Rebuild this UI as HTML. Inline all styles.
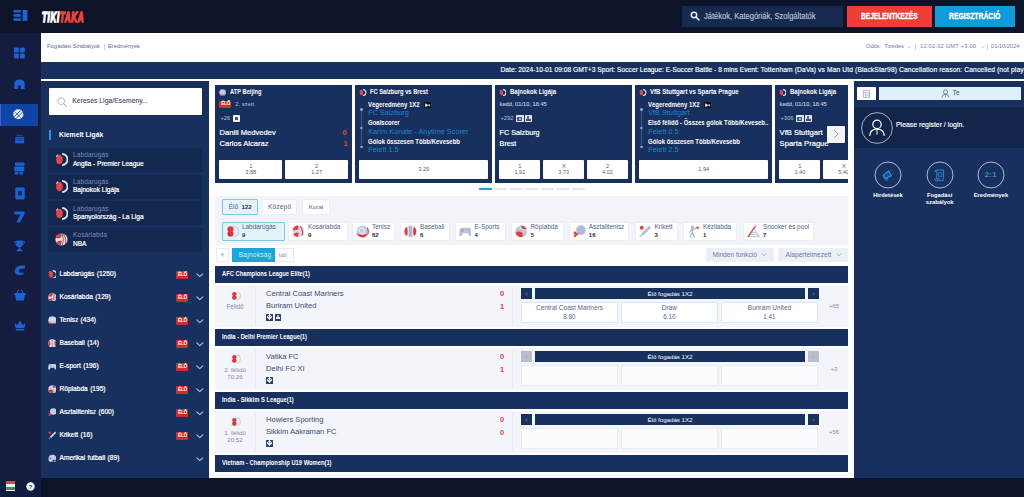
<!DOCTYPE html>
<html><head><meta charset="utf-8">
<style>
*{box-sizing:border-box;margin:0;padding:0}
html,body{width:1024px;height:497px;overflow:hidden;background:#fff;font-family:"Liberation Sans",sans-serif;}
.a{position:absolute}
.t{position:absolute;white-space:nowrap;line-height:1;transform-origin:0 50%}
#hdr{left:0;top:0;width:1024px;height:33px;background:#0d1329}
#side{left:0;top:33px;width:41px;height:464px;background:#141c3f}
#wbar{left:41px;top:33px;width:983px;height:29px;background:#fff}
#tick{left:41px;top:62px;width:983px;height:17px;background:#17305e}
#lp{left:41px;top:81px;width:168.2px;height:397px;background:#17305e}
#rp{left:854px;top:80.5px;width:170px;height:397px;background:#17305e}
#bot{left:41px;top:477.5px;width:983px;height:20px;background:#0d1329}
.card{position:absolute;top:85px;width:136.7px;height:98px;background:#17305e;overflow:hidden}
.ob{position:absolute;top:75px;height:19px;background:#fff;border-radius:1px}
.ob span{position:absolute;left:0;width:100%;text-align:center;font-size:5.6px;color:#4f5d80;line-height:1}
.w{color:#fff}
.lh{position:absolute;left:215px;width:633px;height:17px;background:#17305e}
.lh span{position:absolute;left:7px;top:5.4px;font-size:6.3px;color:#fff;font-weight:bold;line-height:1;white-space:nowrap;transform:scaleX(.92);transform-origin:0 50%}
.mr{position:absolute;left:215px;width:633px;height:42px;background:#f4f5fa}
</style></head><body>
<div class="a" id="hdr"></div>
<div class="a" id="side"></div>
<div class="a" id="wbar"></div>
<div class="a" id="tick"></div>
<div class="a" id="lp"></div>
<div class="a" id="rp"></div>
<!--P1--><!-- HEADER -->
<svg class="a" style="left:13.4px;top:9.4px" width="15.4" height="13.4" viewBox="0 0 16 13"><g fill="#1a63d6"><rect x="0.5" y="0.5" width="7.5" height="2.8"/><rect x="0.5" y="4.8" width="7.5" height="2.8"/><rect x="0.5" y="9.1" width="7.5" height="2.8"/><rect x="10" y="0.5" width="5" height="11.4"/></g></svg>
<div class="t" id="logo" style="left:41.5px;top:10.8px;font-size:13.8px;font-weight:bold;font-style:italic;transform:scaleX(0.578);letter-spacing:1.2px;-webkit-text-stroke:1.6px"><span style="color:#fff">TIKI</span><span style="color:#f0433c">TAKA</span></div>
<div class="a" style="left:682px;top:6px;width:161px;height:20.5px;background:#16294f"></div>
<svg class="a" style="left:690px;top:11px" width="10" height="10" viewBox="0 0 10 10"><circle cx="4" cy="4" r="2.7" fill="none" stroke="#e8ecf5" stroke-width="1.5"/><path d="M6 6 L8.8 8.8" stroke="#e8ecf5" stroke-width="1.7" stroke-linecap="round"/></svg>
<div class="t" id="srch" style="left:704px;top:11.5px;font-size:8.6px;color:#bcc5d9;-webkit-text-stroke:0.15px #bcc5d9;transform:scaleX(0.878)">Játékok, Kategóriák, Szolgáltatók</div>
<div class="a" style="left:847px;top:6px;width:84.5px;height:21px;background:#ef3e36"></div>
<div class="a" style="left:934.5px;top:6px;width:80px;height:21px;background:#129bdb"></div>
<div class="t" id="bej" style="left:860.5px;top:12px;font-size:9px;font-weight:bold;color:#fff;-webkit-text-stroke:0.35px #fff;transform:scaleX(0.735)">BEJELENTKEZÉS</div>
<div class="t" id="reg" style="left:948.5px;top:12px;font-size:9px;font-weight:bold;color:#fff;-webkit-text-stroke:0.35px #fff;transform:scaleX(0.756)">REGISZTRÁCIÓ</div>

<!-- SIDEBAR -->
<div class="a" style="left:0;top:104px;width:38px;height:22px;background:#0e45a6"></div>
<div class="a" style="left:0;top:104px;width:1.4px;height:22px;background:#5a55c8"></div>
<!-- grid -->
<svg class="a" style="left:14px;top:47px" width="11" height="12" viewBox="0 0 11 12"><g fill="#1a63d6"><rect x="0" y="0.5" width="4.8" height="5" rx="0.8"/><rect x="6" y="0.5" width="4.8" height="5" rx="0.8"/><rect x="0" y="6.5" width="4.8" height="5" rx="0.8"/><rect x="6" y="6.5" width="4.8" height="5" rx="0.8"/></g></svg>
<!-- home -->
<svg class="a" style="left:14px;top:79px" width="11" height="10" viewBox="0 0 11 10"><path d="M0.3 10 V5 Q0.3 0.5 5.5 0.5 Q10.7 0.5 10.7 5 V10 H6.9 V7.6 Q6.9 6.2 5.5 6.2 Q4.1 6.2 4.1 7.6 V10 Z" fill="#1a63d6"/></svg>
<!-- active ball -->
<svg class="a" style="left:13.2px;top:109.2px" width="10.6" height="10.6" viewBox="0 0 11 11"><circle cx="5.5" cy="5.5" r="5.2" fill="#e9eefb"/><g stroke="#0e47a8" stroke-width="1" fill="none"><path d="M1.5 8 L8 1.5"/><path d="M3.3 9.8 L9.8 3.3"/><path d="M2 3 L8 9" stroke-width="0.6"/></g></svg>
<!-- calendar -->
<svg class="a" style="left:13.6px;top:134.2px" width="11.4" height="9.8" viewBox="0 0 12 12"><g fill="#1a63d6"><rect x="2" y="0.8" width="8" height="1.6" opacity="0.6"/><rect x="0.5" y="3.6" width="11" height="2"/><rect x="0.5" y="6.2" width="11" height="5.2"/></g><rect x="2" y="7.4" width="8" height="1" fill="#121c3f" opacity="0.5"/></svg>
<!-- slot -->
<svg class="a" style="left:14px;top:162px" width="11" height="13" viewBox="0 0 11 13"><g fill="#1a63d6"><rect x="1" y="0.5" width="9.5" height="3.2" rx="0.6"/><rect x="0.3" y="4.4" width="10" height="5" rx="0.6"/><rect x="1" y="10" width="3.2" height="2.6"/><rect x="5.6" y="10" width="3.2" height="2.6"/></g></svg>
<!-- cards -->
<svg class="a" style="left:14.5px;top:187px" width="10" height="13" viewBox="0 0 10 13"><rect x="0.3" y="0.5" width="9.4" height="12" rx="1" fill="#1a63d6"/><rect x="3" y="4" width="4" height="4.6" fill="#121c3f" opacity="0.75"/></svg>
<!-- seven -->
<svg class="a" style="left:14px;top:210.5px" width="11" height="12" viewBox="0 0 11 12"><path d="M0.3 0.5 H10.5 V3 L5.8 11.5 H2.2 L6.6 3.6 H0.3 Z" fill="#1a63d6"/></svg>
<!-- trophy -->
<svg class="a" style="left:14px;top:240px" width="11" height="12" viewBox="0 0 11 12"><path d="M2.2 0.5 H8.8 V4 Q8.8 7.2 5.5 7.2 Q2.2 7.2 2.2 4 Z M4.7 7 H6.3 V9.6 H8.2 V11.3 H2.8 V9.6 H4.7 Z" fill="#1a63d6"/><path d="M2.2 1.5 H0.6 Q0.6 4.6 2.6 4.8 M8.8 1.5 H10.4 Q10.4 4.6 8.4 4.8" stroke="#1a63d6" stroke-width="0.9" fill="none"/></svg>
<!-- C -->
<svg class="a" style="left:13.5px;top:265px" width="12" height="11" viewBox="0 0 12 11"><path d="M11.2 0.8 Q3 -0.5 0.8 5 Q-0.2 10 6 10.2 Q9.5 10 10.4 7.6 Q8 8.2 5.6 7.4 Q4 6.3 5.6 4.4 Q8 3.4 10.8 3.6 Z" fill="#1a63d6"/></svg>
<!-- basket -->
<svg class="a" style="left:13.5px;top:289px" width="12" height="12" viewBox="0 0 12 12"><path d="M0.3 4 H11.7 V6 H10.8 L10 11.4 H2 L1.2 6 H0.3 Z" fill="#1a63d6"/><path d="M3 4.2 L4.6 0.8 M9 4.2 L7.4 0.8" stroke="#1a63d6" stroke-width="1.1" fill="none"/></svg>
<!-- crown -->
<svg class="a" style="left:13.5px;top:320px" width="12" height="11" viewBox="0 0 12 11"><path d="M0.5 2.4 L3.2 5.2 L6 0.6 L8.8 5.2 L11.5 2.4 L10.4 8.2 H1.6 Z M1.8 9 H10.2 V10.4 H1.8 Z" fill="#1a63d6"/></svg>

<!-- WHITE BAR -->
<div class="t" id="wb1" style="left:47px;top:44.2px;font-size:5.9px;color:#5d6c93">Fogadási Szabályok</div>
<div class="a" style="left:103.5px;top:43.5px;width:0.6px;height:6.5px;background:#c9d1e4"></div>
<div class="t" id="wb2" style="left:108px;top:44.2px;font-size:5.7px;color:#5d6c93">Eredmények</div>
<div class="t" id="od1" style="left:866px;top:44.2px;font-size:5.7px;color:#6d7ea6">Odds:&nbsp; Tizedes</div>
<svg class="a" style="left:907px;top:46.4px" width="4" height="2.4" viewBox="0 0 5 3"><path d="M0.5 0.5 L2.5 2.4 L4.5 0.5" stroke="#9aa6c4" stroke-width="0.7" fill="none"/></svg>
<div class="a" style="left:915.3px;top:44px;width:0.6px;height:6.4px;background:#ccd3e4"></div>
<div class="t" id="od2" style="left:920px;top:44.2px;letter-spacing:0.22px;font-size:5.7px;color:#6d7ea6">12:02:02 GMT +3:00</div>
<svg class="a" style="left:980.6px;top:46.4px" width="4" height="2.4" viewBox="0 0 5 3"><path d="M0.5 0.5 L2.5 2.4 L4.5 0.5" stroke="#9aa6c4" stroke-width="0.7" fill="none"/></svg>
<div class="a" style="left:987.4px;top:44px;width:0.6px;height:6.4px;background:#ccd3e4"></div>
<div class="t" id="od3" style="left:991px;top:44.2px;font-size:5.66px;color:#6d7ea6">01/10/2024</div>

<!-- TICKER -->
<div class="t" id="tk" style="left:500.5px;top:67px;font-size:6.7px;color:#fff;-webkit-text-stroke:0.15px #fff">Date: 2024-10-01 09:08 GMT+3 Sport: Soccer League: E-Soccer Battle - 8 mins Event: <span style="letter-spacing:0.115px">Tottenham (DaVa) vs Man Utd (BlackStar98) Cancellation reason: Cancelled (not played)</span></div>
<!--/P1-->
<!--P2--><div class="a" style="left:49px;top:88px;width:153px;height:27px;background:#fff;border-radius:1px"></div>
<svg class="a" style="left:56.5px;top:96.5px" width="11" height="11" viewBox="0 0 11 11"><circle cx="4.2" cy="4.2" r="3.4" fill="none" stroke="#8d99b5" stroke-width="0.7"/><path d="M6.8 6.8 L9.6 9.6" stroke="#8d99b5" stroke-width="0.9" stroke-linecap="round"/></svg>
<div class="t" id="ks" style="left:72.3px;top:97.8px;font-size:6.85px;color:#3f4c70;-webkit-text-stroke:0.12px #3f4c70">Keresés Liga/Esemény...</div>
<div class="a" style="left:49px;top:130px;width:1.8px;height:10px;background:#1e9be0"></div>
<div class="t" id="kl" style="left:58.5px;top:130.5px;font-size:7.4px;color:#fff;font-weight:bold;transform:scaleX(0.92)">Kiemelt Ligák</div>
<div class="a" style="left:48px;top:148.00px;width:153.5px;height:24px;background:#13284f"></div>
<svg class="a" style="left:54.6px;top:153.40px" width="13" height="13" viewBox="0 0 12 12"><path d="M6.6 1 A5 5 0 0 1 6.6 11" fill="none" stroke="#dfe6f8" stroke-width="1.8"/><path d="M1.2 3.4 L3 1.6" stroke="#f2f4fb" stroke-width="1.1"/><ellipse cx="4.1" cy="6.1" rx="3" ry="4.3" fill="#e8434a"/></svg>
<div class="t" style="left:73px;top:152.40px;font-size:6.5px;letter-spacing:0.12px;color:#7d8db3">Labdarúgás</div>
<div class="t" id="li0" style="left:73px;top:160.60px;font-size:6.55px;color:#fff;-webkit-text-stroke:0.22px #fff">Anglia - Premier League</div>
<div class="a" style="left:48px;top:174.67px;width:153.5px;height:24px;background:#13284f"></div>
<svg class="a" style="left:54.6px;top:180.07px" width="13" height="13" viewBox="0 0 12 12"><path d="M6.6 1 A5 5 0 0 1 6.6 11" fill="none" stroke="#dfe6f8" stroke-width="1.8"/><path d="M1.2 3.4 L3 1.6" stroke="#f2f4fb" stroke-width="1.1"/><ellipse cx="4.1" cy="6.1" rx="3" ry="4.3" fill="#e8434a"/></svg>
<div class="t" style="left:73px;top:179.07px;font-size:6.5px;letter-spacing:0.12px;color:#7d8db3">Labdarúgás</div>
<div class="t" id="li1" style="left:73px;top:187.27px;font-size:6.55px;color:#fff;-webkit-text-stroke:0.22px #fff">Bajnokok Ligája</div>
<div class="a" style="left:48px;top:201.34px;width:153.5px;height:24px;background:#13284f"></div>
<svg class="a" style="left:54.6px;top:206.74px" width="13" height="13" viewBox="0 0 12 12"><path d="M6.6 1 A5 5 0 0 1 6.6 11" fill="none" stroke="#dfe6f8" stroke-width="1.8"/><path d="M1.2 3.4 L3 1.6" stroke="#f2f4fb" stroke-width="1.1"/><ellipse cx="4.1" cy="6.1" rx="3" ry="4.3" fill="#e8434a"/></svg>
<div class="t" style="left:73px;top:205.74px;font-size:6.5px;letter-spacing:0.12px;color:#7d8db3">Labdarúgás</div>
<div class="t" id="li2" style="left:73px;top:213.94px;font-size:6.55px;color:#fff;-webkit-text-stroke:0.22px #fff">Spanyolország - La Liga</div>
<div class="a" style="left:48px;top:228.01px;width:153.5px;height:24px;background:#13284f"></div>
<svg class="a" style="left:54.6px;top:233.41px" width="13" height="13" viewBox="0 0 12 12"><circle cx="6" cy="6" r="5.6" fill="#dfe5f2"/><path d="M6 0.4 A5.6 5.6 0 0 0 0.6 4.6 Q3.4 5.6 6 4 Z" fill="#e63b34"/><path d="M1 8.6 Q4 6.2 6.4 7.4 L5.4 11.5 Q2.4 11.2 1 8.6Z" fill="#e63b34"/><path d="M6 0.4 Q9 5 6.6 11.5" stroke="#17305e" stroke-width="0.6" fill="none"/><path d="M7.6 1 Q10.6 4 9.6 10" stroke="#e63b34" stroke-width="1" fill="none"/></svg>
<div class="t" style="left:73px;top:232.41px;font-size:6.5px;letter-spacing:0.12px;color:#7d8db3">Kosárlabda</div>
<div class="t" id="li3" style="left:73px;top:240.61px;font-size:6.55px;color:#fff;-webkit-text-stroke:0.22px #fff">NBA</div>
<svg class="a" style="left:47.5px;top:269.6px" width="8.8" height="8.8" viewBox="0 0 12 12"><path d="M6.6 1 A5 5 0 0 1 6.6 11" fill="none" stroke="#dfe6f8" stroke-width="1.8"/><path d="M1.2 3.4 L3 1.6" stroke="#f2f4fb" stroke-width="1.1"/><ellipse cx="4.1" cy="6.1" rx="3" ry="4.3" fill="#e8434a"/></svg>
<div class="t" id="sp0" style="left:59.5px;top:271.1px;font-size:6.6px;color:#fff;-webkit-text-stroke:0.22px #fff;word-spacing:0.6px">Labdarúgás (1250)</div>
<div class="a" style="left:175.8px;top:270.7px;width:12.6px;height:8.2px;background:#cf2d28;border-radius:1px"></div>
<div class="t" style="left:178px;top:272.6px;font-size:4.6px;color:#fff;font-weight:bold;letter-spacing:-0.2px">ÉLŐ</div>
<svg class="a" style="left:196.4px;top:273.1px" width="7.6" height="4.8" viewBox="0 0 8 5"><path d="M0.8 0.8 L4 3.9 L7.2 0.8" stroke="#b5c3e0" stroke-width="1.1" fill="none" stroke-linecap="round" stroke-linejoin="round"/></svg>
<svg class="a" style="left:47.5px;top:292.6px" width="8.8" height="8.8" viewBox="0 0 12 12"><circle cx="6" cy="6" r="5.6" fill="#dfe5f2"/><path d="M6 0.4 A5.6 5.6 0 0 0 0.6 4.6 Q3.4 5.6 6 4 Z" fill="#e63b34"/><path d="M1 8.6 Q4 6.2 6.4 7.4 L5.4 11.5 Q2.4 11.2 1 8.6Z" fill="#e63b34"/><path d="M6 0.4 Q9 5 6.6 11.5" stroke="#17305e" stroke-width="0.6" fill="none"/><path d="M7.6 1 Q10.6 4 9.6 10" stroke="#e63b34" stroke-width="1" fill="none"/></svg>
<div class="t" id="sp1" style="left:59.5px;top:294.1px;font-size:6.6px;color:#fff;-webkit-text-stroke:0.22px #fff;word-spacing:0.6px">Kosárlabda (129)</div>
<div class="a" style="left:175.8px;top:293.7px;width:12.6px;height:8.2px;background:#cf2d28;border-radius:1px"></div>
<div class="t" style="left:178px;top:295.6px;font-size:4.6px;color:#fff;font-weight:bold;letter-spacing:-0.2px">ÉLŐ</div>
<svg class="a" style="left:196.4px;top:296.1px" width="7.6" height="4.8" viewBox="0 0 8 5"><path d="M0.8 0.8 L4 3.9 L7.2 0.8" stroke="#b5c3e0" stroke-width="1.1" fill="none" stroke-linecap="round" stroke-linejoin="round"/></svg>
<svg class="a" style="left:47.5px;top:315.6px" width="8.8" height="8.8" viewBox="0 0 12 12"><circle cx="6" cy="6" r="5.6" fill="#c8d2e8"/><path d="M0.8 8 Q6 11 11 8.4 Q9 12 6 11.6 Q2.4 11.6 0.8 8Z" fill="#e63b34"/><path d="M2 3 Q6 6 10 3" stroke="#fff" stroke-width="0.8" fill="none"/></svg>
<div class="t" id="sp2" style="left:59.5px;top:317.1px;font-size:6.6px;color:#fff;-webkit-text-stroke:0.22px #fff;word-spacing:0.6px">Tenisz (434)</div>
<div class="a" style="left:175.8px;top:316.7px;width:12.6px;height:8.2px;background:#cf2d28;border-radius:1px"></div>
<div class="t" style="left:178px;top:318.6px;font-size:4.6px;color:#fff;font-weight:bold;letter-spacing:-0.2px">ÉLŐ</div>
<svg class="a" style="left:196.4px;top:319.1px" width="7.6" height="4.8" viewBox="0 0 8 5"><path d="M0.8 0.8 L4 3.9 L7.2 0.8" stroke="#b5c3e0" stroke-width="1.1" fill="none" stroke-linecap="round" stroke-linejoin="round"/></svg>
<svg class="a" style="left:47.5px;top:338.6px" width="8.8" height="8.8" viewBox="0 0 12 12"><circle cx="6" cy="6" r="5.6" fill="#dfe5f2"/><path d="M2.2 1.8 Q4.4 6 2.2 10.2 Q0.2 8.6 0.4 6 Q0.4 3.4 2.2 1.8Z M9.8 1.8 Q7.6 6 9.8 10.2 Q11.8 8.6 11.6 6 Q11.6 3.4 9.8 1.8Z" fill="#e63b34"/><rect x="4.6" y="1" width="2.8" height="10" fill="#8d9fce" opacity="0.7"/></svg>
<div class="t" id="sp3" style="left:59.5px;top:340.1px;font-size:6.6px;color:#fff;-webkit-text-stroke:0.22px #fff;word-spacing:0.6px">Baseball (14)</div>
<div class="a" style="left:175.8px;top:339.7px;width:12.6px;height:8.2px;background:#cf2d28;border-radius:1px"></div>
<div class="t" style="left:178px;top:341.6px;font-size:4.6px;color:#fff;font-weight:bold;letter-spacing:-0.2px">ÉLŐ</div>
<svg class="a" style="left:196.4px;top:342.1px" width="7.6" height="4.8" viewBox="0 0 8 5"><path d="M0.8 0.8 L4 3.9 L7.2 0.8" stroke="#b5c3e0" stroke-width="1.1" fill="none" stroke-linecap="round" stroke-linejoin="round"/></svg>
<svg class="a" style="left:47.5px;top:361.6px" width="8.8" height="8.8" viewBox="0 0 12 12"><path d="M2.4 2.6 H9.6 Q11.4 2.6 11.6 6 L11.8 10.4 H9.4 L8.4 7.8 H3.6 L2.6 10.4 H0.2 L0.4 6 Q0.6 2.6 2.4 2.6Z" fill="#c4cde4"/><rect x="2.4" y="4.2" width="1.6" height="1.6" fill="#8d7fb8"/></svg>
<div class="t" id="sp4" style="left:59.5px;top:363.1px;font-size:6.6px;color:#fff;-webkit-text-stroke:0.22px #fff;word-spacing:0.6px">E-sport (196)</div>
<div class="a" style="left:175.8px;top:362.7px;width:12.6px;height:8.2px;background:#cf2d28;border-radius:1px"></div>
<div class="t" style="left:178px;top:364.6px;font-size:4.6px;color:#fff;font-weight:bold;letter-spacing:-0.2px">ÉLŐ</div>
<svg class="a" style="left:196.4px;top:365.1px" width="7.6" height="4.8" viewBox="0 0 8 5"><path d="M0.8 0.8 L4 3.9 L7.2 0.8" stroke="#b5c3e0" stroke-width="1.1" fill="none" stroke-linecap="round" stroke-linejoin="round"/></svg>
<svg class="a" style="left:47.5px;top:384.6px" width="8.8" height="8.8" viewBox="0 0 12 12"><circle cx="6" cy="6" r="5.6" fill="#c4cde4"/><path d="M0.5 7 Q4 5 7 7.4 Q8 9.6 6.6 11.6 Q2 11.6 0.5 7Z" fill="#e63b34"/><path d="M6 0.4 Q9.6 1 10.8 4 Q8 4.6 6.4 3 Z" fill="#e63b34"/><path d="M4.2 2 Q7 5 11.4 5.2" stroke="#fff" stroke-width="0.7" fill="none"/></svg>
<div class="t" id="sp5" style="left:59.5px;top:386.1px;font-size:6.6px;color:#fff;-webkit-text-stroke:0.22px #fff;word-spacing:0.6px">Röplabda (195)</div>
<div class="a" style="left:175.8px;top:385.7px;width:12.6px;height:8.2px;background:#cf2d28;border-radius:1px"></div>
<div class="t" style="left:178px;top:387.6px;font-size:4.6px;color:#fff;font-weight:bold;letter-spacing:-0.2px">ÉLŐ</div>
<svg class="a" style="left:196.4px;top:388.1px" width="7.6" height="4.8" viewBox="0 0 8 5"><path d="M0.8 0.8 L4 3.9 L7.2 0.8" stroke="#b5c3e0" stroke-width="1.1" fill="none" stroke-linecap="round" stroke-linejoin="round"/></svg>
<svg class="a" style="left:47.5px;top:407.6px" width="8.8" height="8.8" viewBox="0 0 12 12"><circle cx="7.2" cy="4.8" r="4.5" fill="#c4cde4"/><path d="M3.6 7.2 L5 8.6 L1.8 11.6 L0.4 10.2 Z" fill="#e63b34"/><circle cx="1.6" cy="7.6" r="1.2" fill="#e63b34"/></svg>
<div class="t" id="sp6" style="left:59.5px;top:409.1px;font-size:6.6px;color:#fff;-webkit-text-stroke:0.22px #fff;word-spacing:0.6px">Asztalitenisz (600)</div>
<div class="a" style="left:175.8px;top:408.7px;width:12.6px;height:8.2px;background:#cf2d28;border-radius:1px"></div>
<div class="t" style="left:178px;top:410.6px;font-size:4.6px;color:#fff;font-weight:bold;letter-spacing:-0.2px">ÉLŐ</div>
<svg class="a" style="left:196.4px;top:411.1px" width="7.6" height="4.8" viewBox="0 0 8 5"><path d="M0.8 0.8 L4 3.9 L7.2 0.8" stroke="#b5c3e0" stroke-width="1.1" fill="none" stroke-linecap="round" stroke-linejoin="round"/></svg>
<svg class="a" style="left:47.5px;top:430.6px" width="8.8" height="8.8" viewBox="0 0 12 12"><path d="M9.6 0.6 L11.4 2.4 L4.4 9.4 L2.6 7.6 Z" fill="#c4cde4"/><path d="M3 8.2 L3.8 9 L1 11.6 L0.4 11 Z" fill="#9fb0d6"/><circle cx="2.4" cy="2.4" r="1.7" fill="#e63b34"/></svg>
<div class="t" id="sp7" style="left:59.5px;top:432.1px;font-size:6.6px;color:#fff;-webkit-text-stroke:0.22px #fff;word-spacing:0.6px">Krikett (16)</div>
<div class="a" style="left:175.8px;top:431.7px;width:12.6px;height:8.2px;background:#cf2d28;border-radius:1px"></div>
<div class="t" style="left:178px;top:433.6px;font-size:4.6px;color:#fff;font-weight:bold;letter-spacing:-0.2px">ÉLŐ</div>
<svg class="a" style="left:196.4px;top:434.1px" width="7.6" height="4.8" viewBox="0 0 8 5"><path d="M0.8 0.8 L4 3.9 L7.2 0.8" stroke="#b5c3e0" stroke-width="1.1" fill="none" stroke-linecap="round" stroke-linejoin="round"/></svg>
<svg class="a" style="left:47.5px;top:453.6px" width="8.8" height="8.8" viewBox="0 0 12 12"><path d="M0.6 7 Q0.6 1 6.4 1 Q11 1 11.4 6 L11.4 7.4 H6.4 V10.6 H2.6 Q0.6 10 0.6 7Z" fill="#c4cde4"/><path d="M7 7.6 H11.4 V11 H7 M9.2 7.6 V11" stroke="#dfe5f2" stroke-width="0.8" fill="none"/><rect x="2" y="4.6" width="2.4" height="2.4" fill="#7f90c0"/></svg>
<div class="t" id="sp8" style="left:59.5px;top:455.1px;font-size:6.6px;color:#fff;-webkit-text-stroke:0.22px #fff;word-spacing:0.6px">Amerikai futball (89)</div>
<svg class="a" style="left:196.4px;top:457.1px" width="7.6" height="4.8" viewBox="0 0 8 5"><path d="M0.8 0.8 L4 3.9 L7.2 0.8" stroke="#b5c3e0" stroke-width="1.1" fill="none" stroke-linecap="round" stroke-linejoin="round"/></svg><!--/P2-->
<!--P3--><div class="a" id="clip" style="left:215px;top:0;width:633px;height:190px;overflow:hidden">
<div class="card" style="left:0px"><svg class="a" style="left:4.2px;top:4px" width="7.2" height="7.2" viewBox="0 0 12 12"><circle cx="6" cy="6" r="5.6" fill="#b9c4e0"/><path d="M0.8 8 Q6 11 11 8.4 Q9 12 6 11.6 Q2.4 11.6 0.8 8Z" fill="#e63b34"/><circle cx="5.6" cy="5.2" r="2.4" fill="none" stroke="#eef1f8" stroke-width="0.8"/></svg><div class="t w" id="k0t" style="left:15.3px;top:4.3px;font-size:6.5px;font-weight:bold;transform:scaleX(0.88)">ATP Beijing</div><div class="a" style="left:4.2px;top:16px;width:12.3px;height:7.2px;background:#d92f2a;border-radius:1.2px"></div><div class="t" style="left:6.2px;top:17.4px;font-size:4.6px;color:#fff;font-weight:bold;letter-spacing:-0.2px">ÉLŐ</div><div class="t" id="k0l" style="left:20.2px;top:16.6px;font-size:5.85px;color:#b6c2da">2. szett</div><div class="t" id="k0p" style="left:5.4px;top:30.6px;font-size:5.8px;color:#b6c2da">+26</div><div class="a" style="left:17.8px;top:30px;width:7.4px;height:7.4px;background:#f2f4f9;border-radius:0.8px"></div><div class="a" style="left:20.2px;top:32.4px;width:2.6px;height:2.6px;background:#3d4f78;border-radius:0.5px"></div><div class="t w" id="k0a" style="left:4.6px;top:43.9px;font-size:7.6px;-webkit-text-stroke:0.2px #fff">Daniil Medvedev</div><div class="t w" id="k0b" style="left:4.6px;top:55.2px;font-size:7.6px;-webkit-text-stroke:0.2px #fff">Carlos Alcaraz</div><div class="t" style="left:127.6px;top:43.8px;font-size:7.6px;color:#e8413a;font-weight:bold">0</div><div class="t" style="left:128.6px;top:55.2px;font-size:7.6px;color:#e8413a;font-weight:bold">1</div><div class="ob" style="left:4.2px;width:63.2px"><span style="top:3.6px">1</span><span style="top:10.2px">3.88</span></div><div class="ob" style="left:70.0px;width:63.2px"><span style="top:3.6px">2</span><span style="top:10.2px">1.27</span></div></div>
<div class="card" style="left:140px"><svg class="a" style="left:4.4px;top:4px" width="7.2" height="7.2" viewBox="0 0 12 12"><path d="M6.6 1 A5 5 0 0 1 6.6 11" fill="none" stroke="#dfe6f8" stroke-width="1.8"/><path d="M1.2 3.4 L3 1.6" stroke="#f2f4fb" stroke-width="1.1"/><ellipse cx="4.1" cy="6.1" rx="3" ry="4.3" fill="#e8434a"/></svg><div class="t w" id="k1t" style="left:15.2px;top:4.3px;font-size:6.5px;font-weight:bold;transform:scaleX(0.885)">FC Salzburg vs Brest</div><div class="a" style="left:6.35px;top:25px;width:0.5px;height:37px;background:#415683"></div><div class="a" style="left:5.3px;top:23.2px;width:2.6px;height:2.6px;border-radius:50%;background:#8c9dc2"></div><div class="a" style="left:5.3px;top:41.5px;width:2.6px;height:2.6px;border-radius:50%;background:#8c9dc2"></div><div class="a" style="left:5.3px;top:60.5px;width:2.6px;height:2.6px;border-radius:50%;background:#8c9dc2"></div><div class="t w" id="c1a0" style="left:13.2px;top:16.9px;font-size:6.5px;font-weight:bold;transform:scaleX(0.923)">Végeredmény 1X2</div><div class="t" id="c1b0" style="left:13.2px;top:24.1px;font-size:7.3px;color:#1c84cc">FC Salzburg</div><svg class="a" style="left:68.8px;top:16.7px" width="6.9" height="6.5" viewBox="0 0 7 6.5"><rect width="7" height="6.5" rx="0.6" fill="#0a0d18"/><path d="M1.2 1.3 L4.6 3.25 L1.2 5.2 Z" fill="#f6f6f6"/><rect x="4.4" y="2.2" width="1.8" height="2.2" rx="0.8" fill="#d0d0d0"/></svg><div class="t w" id="c1a1" style="left:13.2px;top:34.8px;font-size:6.5px;font-weight:bold;transform:scaleX(0.923)">Goalscorer</div><div class="t" id="c1b1" style="left:13.2px;top:42.8px;font-size:7.3px;color:#1c84cc">Karim Konate - Anytime Scorer</div><div class="t w" id="c1a2" style="left:13.2px;top:53.8px;font-size:6.5px;font-weight:bold;transform:scaleX(0.923)">Gólok összesen Több/Kevesebb</div><div class="t" id="c1b2" style="left:13.2px;top:61.2px;font-size:7.3px;color:#1c84cc">Felett 1.5</div><div class="ob" style="left:4.2px;width:129.0px"><span style="top:7px">3.29</span></div></div>
<div class="card" style="left:280px"><svg class="a" style="left:4.2px;top:4px" width="7.2" height="7.2" viewBox="0 0 12 12"><path d="M6.6 1 A5 5 0 0 1 6.6 11" fill="none" stroke="#dfe6f8" stroke-width="1.8"/><path d="M1.2 3.4 L3 1.6" stroke="#f2f4fb" stroke-width="1.1"/><ellipse cx="4.1" cy="6.1" rx="3" ry="4.3" fill="#e8434a"/></svg><div class="t w" id="k2t" style="left:15.3px;top:4.3px;font-size:6.5px;font-weight:bold;transform:scaleX(0.924)">Bajnokok Ligája</div><div class="t" id="k2l" style="left:4.6px;top:16.6px;font-size:5.7px;color:#c3cde2;-webkit-text-stroke:0.1px #c3cde2">kedd, 01/10, 18:45</div><div class="t" id="k2p" style="left:5.4px;top:30.6px;font-size:5.8px;color:#b6c2da">+292</div><div class="a" style="left:21.2px;top:30px;width:7.4px;height:7.4px;background:#dfe4ef;border-radius:0.8px"></div><div class="a" style="left:22.4px;top:31.8px;width:5px;height:3.8px;background:#3d4f78;border-radius:0.5px"></div><div class="a" style="left:24.0px;top:32.8px;width:1.8px;height:1.8px;background:#dfe4ef;border-radius:50%"></div><div class="a" style="left:29.6px;top:30px;width:7.4px;height:7.4px;background:#dfe4ef;border-radius:0.8px"></div><div class="a" style="left:31.0px;top:33.6px;width:4.6px;height:2.4px;background:#3d4f78"></div><div class="a" style="left:32.2px;top:31.4px;width:2.2px;height:2.2px;background:#3d4f78;border-radius:50%"></div><div class="t w" id="k2a" style="left:4.6px;top:43.9px;font-size:7.2px;-webkit-text-stroke:0.2px #fff">FC Salzburg</div><div class="t w" id="k2b" style="left:4.6px;top:55.2px;font-size:7.2px;-webkit-text-stroke:0.2px #fff">Brest</div><div class="ob" style="left:4.2px;width:41.3px"><span style="top:3.6px">1</span><span style="top:10.2px">1.91</span></div><div class="ob" style="left:48.1px;width:41.3px"><span style="top:3.6px">X</span><span style="top:10.2px">3.73</span></div><div class="ob" style="left:91.9px;width:41.3px"><span style="top:3.6px">2</span><span style="top:10.2px">4.02</span></div></div>
<div class="card" style="left:420px"><svg class="a" style="left:4.4px;top:4px" width="7.2" height="7.2" viewBox="0 0 12 12"><path d="M6.6 1 A5 5 0 0 1 6.6 11" fill="none" stroke="#dfe6f8" stroke-width="1.8"/><path d="M1.2 3.4 L3 1.6" stroke="#f2f4fb" stroke-width="1.1"/><ellipse cx="4.1" cy="6.1" rx="3" ry="4.3" fill="#e8434a"/></svg><div class="t w" id="k3t" style="left:15.2px;top:4.3px;font-size:6.5px;font-weight:bold;transform:scaleX(0.934)">VfB Stuttgart vs Sparta Prague</div><div class="a" style="left:6.35px;top:25px;width:0.5px;height:37px;background:#415683"></div><div class="a" style="left:5.3px;top:23.2px;width:2.6px;height:2.6px;border-radius:50%;background:#8c9dc2"></div><div class="a" style="left:5.3px;top:41.5px;width:2.6px;height:2.6px;border-radius:50%;background:#8c9dc2"></div><div class="a" style="left:5.3px;top:60.5px;width:2.6px;height:2.6px;border-radius:50%;background:#8c9dc2"></div><div class="t w" id="c3a0" style="left:13.2px;top:16.9px;font-size:6.5px;font-weight:bold;transform:scaleX(0.923)">Végeredmény 1X2</div><div class="t" id="c3b0" style="left:13.2px;top:24.1px;font-size:7.3px;color:#1c84cc">VfB Stuttgart</div><svg class="a" style="left:68.8px;top:16.7px" width="6.9" height="6.5" viewBox="0 0 7 6.5"><rect width="7" height="6.5" rx="0.6" fill="#0a0d18"/><path d="M1.2 1.3 L4.6 3.25 L1.2 5.2 Z" fill="#f6f6f6"/><rect x="4.4" y="2.2" width="1.8" height="2.2" rx="0.8" fill="#d0d0d0"/></svg><div class="t w" id="c3a1" style="left:13.2px;top:34.8px;font-size:6.5px;font-weight:bold;transform:scaleX(0.923)">Első félidő - Összes gólok Több/Keveseb..</div><div class="t" id="c3b1" style="left:13.2px;top:42.8px;font-size:7.3px;color:#1c84cc">Felett 0.5</div><div class="t w" id="c3a2" style="left:13.2px;top:53.8px;font-size:6.5px;font-weight:bold;transform:scaleX(0.923)">Gólok összesen Több/Kevesebb</div><div class="t" id="c3b2" style="left:13.2px;top:61.2px;font-size:7.3px;color:#1c84cc">Felett 2.5</div><div class="ob" style="left:4.2px;width:129.0px"><span style="top:7px">1.94</span></div></div>
<div class="card" style="left:560px"><svg class="a" style="left:4.2px;top:4px" width="7.2" height="7.2" viewBox="0 0 12 12"><path d="M6.6 1 A5 5 0 0 1 6.6 11" fill="none" stroke="#dfe6f8" stroke-width="1.8"/><path d="M1.2 3.4 L3 1.6" stroke="#f2f4fb" stroke-width="1.1"/><ellipse cx="4.1" cy="6.1" rx="3" ry="4.3" fill="#e8434a"/></svg><div class="t w" id="k4t" style="left:15.3px;top:4.3px;font-size:6.5px;font-weight:bold;transform:scaleX(0.924)">Bajnokok Ligája</div><div class="t" id="k4l" style="left:4.6px;top:16.6px;font-size:5.7px;color:#c3cde2;-webkit-text-stroke:0.1px #c3cde2">kedd, 01/10, 18:45</div><div class="t" id="k4p" style="left:5.4px;top:30.6px;font-size:5.8px;color:#b6c2da">+306</div><div class="a" style="left:21.2px;top:30px;width:7.4px;height:7.4px;background:#dfe4ef;border-radius:0.8px"></div><div class="a" style="left:22.4px;top:31.8px;width:5px;height:3.8px;background:#3d4f78;border-radius:0.5px"></div><div class="a" style="left:24.0px;top:32.8px;width:1.8px;height:1.8px;background:#dfe4ef;border-radius:50%"></div><div class="a" style="left:29.6px;top:30px;width:7.4px;height:7.4px;background:#dfe4ef;border-radius:0.8px"></div><div class="a" style="left:31.0px;top:33.6px;width:4.6px;height:2.4px;background:#3d4f78"></div><div class="a" style="left:32.2px;top:31.4px;width:2.2px;height:2.2px;background:#3d4f78;border-radius:50%"></div><div class="t w" id="k4a" style="left:4.6px;top:43.9px;font-size:7.6px;-webkit-text-stroke:0.2px #fff">VfB Stuttgart</div><div class="t w" id="k4b" style="left:4.6px;top:55.2px;font-size:7.6px;-webkit-text-stroke:0.2px #fff">Sparta Prague</div><div class="ob" style="left:4.2px;width:41.3px"><span style="top:3.6px">1</span><span style="top:10.2px">1.40</span></div><div class="ob" style="left:48.1px;width:41.3px"><span style="top:3.6px">X</span><span style="top:10.2px">5.40</span></div><div class="ob" style="left:91.9px;width:41.3px"><span style="top:3.6px">2</span><span style="top:10.2px">7.20</span></div></div>
</div>
<div class="a" style="left:827px;top:125.5px;width:17.5px;height:17.5px;background:#f4f4f6;border-radius:1px;box-shadow:0 0 1.5px rgba(0,0,0,.35)"></div><svg class="a" style="left:832px;top:129.2px" width="8" height="10" viewBox="0 0 8 10"><path d="M2 1 L6.2 5 L2 9" stroke="#8a8f9c" stroke-width="0.9" fill="none"/></svg>
<div class="a" style="left:478.8px;top:188.3px;width:13.2px;height:1.3px;background:#1aa3dd"></div>
<div class="a" style="left:494.3px;top:188.3px;width:13.2px;height:1.3px;background:#e3e6ee"></div>
<div class="a" style="left:509.8px;top:188.3px;width:13.2px;height:1.3px;background:#e3e6ee"></div>
<div class="a" style="left:525.3px;top:188.3px;width:13.2px;height:1.3px;background:#e3e6ee"></div>
<div class="a" style="left:540.8px;top:188.3px;width:13.2px;height:1.3px;background:#e3e6ee"></div>
<div class="a" style="left:556.3px;top:188.3px;width:13.2px;height:1.3px;background:#e3e6ee"></div>
<div class="a" style="left:571.8px;top:188.3px;width:13.2px;height:1.3px;background:#e3e6ee"></div><!--/P3-->
<!--P4--><div class="a" style="left:215px;top:195.5px;width:633px;height:49px;background:#f3f4f9"></div>
<div class="a" style="left:222px;top:198.8px;width:36.2px;height:16.4px;background:#e2f3fa;border:0.6px solid #7cc8e6;border-radius:1px"></div>
<div class="t" style="left:228.8px;top:203.6px;font-size:6.4px;color:#4f5f86">Élő</div><div class="t" style="left:241.4px;top:203.6px;font-size:6.2px;color:#1d2c50;font-weight:bold">122</div>
<div class="a" style="left:262px;top:198.8px;width:35.4px;height:16.4px;background:#fff;border:0.5px solid #eceef5;border-radius:1px"></div><div class="t" id="tb2" style="left:268px;top:203.6px;font-size:6.5px;letter-spacing:0.2px;color:#4f5f86">Közepő</div>
<div class="a" style="left:302.4px;top:198.8px;width:28px;height:16.4px;background:#fff;border:0.5px solid #eceef5;border-radius:1px"></div><div class="t" id="tb3" style="left:308.8px;top:203.6px;font-size:6.2px;color:#4f5f86">Korai</div>
<div class="a" style="left:222px;top:222.4px;width:63px;height:18.2px;background:#e2f3fa;border:0.6px solid #7cc8e6;border-radius:1px"></div>
<svg class="a" style="left:226px;top:225.2px" width="12.8" height="12.8" viewBox="0 0 12 12"><path d="M6.8 1 A5 5 0 0 1 6.8 11" fill="none" stroke="#cfd5ea" stroke-width="1.6"/><ellipse cx="4.2" cy="3.9" rx="2.9" ry="2.7" fill="#de3b3e"/><ellipse cx="4.2" cy="8.3" rx="2.9" ry="2.7" fill="#d9363a"/></svg>
<div class="t" id="f0" style="left:242px;top:224.2px;font-size:6.4px;color:#4f5f86">Labdarúgás</div>
<div class="t" style="left:242px;top:232px;font-size:6px;color:#1d2c50;font-weight:bold">9</div>
<div class="a" style="left:288px;top:222.4px;width:60px;height:18.2px;background:#fff;border:0.5px solid #eceef5;border-radius:1px"></div>
<svg class="a" style="left:292px;top:225.2px" width="12.8" height="12.8" viewBox="0 0 12 12"><circle cx="6" cy="6" r="5.6" fill="#d5dcee"/><path d="M6 0.4 A5.6 5.6 0 0 0 0.6 4.6 Q3.4 5.6 6 4 Z" fill="#e63b34"/><path d="M1 8.6 Q4 6.2 6.4 7.4 L5.4 11.5 Q2.4 11.2 1 8.6Z" fill="#e63b34"/><path d="M7.6 1 Q10.6 4 9.6 10" stroke="#e63b34" stroke-width="1" fill="none"/></svg>
<div class="t" id="f1" style="left:308px;top:224.2px;font-size:6.4px;color:#4f5f86">Kosárlabda</div>
<div class="t" style="left:308px;top:232px;font-size:6px;color:#1d2c50;font-weight:bold">9</div>
<div class="a" style="left:352px;top:222.4px;width:43px;height:18.2px;background:#fff;border:0.5px solid #eceef5;border-radius:1px"></div>
<svg class="a" style="left:356px;top:225.2px" width="12.8" height="12.8" viewBox="0 0 12 12"><circle cx="6" cy="6" r="5.6" fill="#c3cde6"/><path d="M0.6 7.6 Q6 11 11.2 8 Q9.4 12 6 11.7 Q2.2 11.7 0.6 7.6Z" fill="#e63b34"/><path d="M10.6 2.6 Q12.4 6 10.8 9" stroke="#e63b34" stroke-width="1" fill="none"/><circle cx="5.4" cy="5.4" r="2.6" fill="none" stroke="#eef1f8" stroke-width="0.8"/></svg>
<div class="t" id="f2" style="left:372px;top:224.2px;font-size:6.4px;color:#4f5f86">Tenisz</div>
<div class="t" style="left:372px;top:232px;font-size:6px;color:#1d2c50;font-weight:bold">62</div>
<div class="a" style="left:400px;top:222.4px;width:50px;height:18.2px;background:#fff;border:0.5px solid #eceef5;border-radius:1px"></div>
<svg class="a" style="left:404px;top:225.2px" width="12.8" height="12.8" viewBox="0 0 12 12"><circle cx="6" cy="6" r="5.6" fill="#d5dcee"/><path d="M2.4 1.6 Q4.6 6 2.4 10.4 Q0.2 8.6 0.4 6 Q0.4 3.4 2.4 1.6Z M9.6 1.6 Q7.4 6 9.6 10.4 Q11.8 8.6 11.6 6 Q11.6 3.4 9.6 1.6Z" fill="#e63b34"/><rect x="4.8" y="0.8" width="2.4" height="10.4" fill="#95a6d2" opacity="0.75"/></svg>
<div class="t" id="f3" style="left:420px;top:224.2px;font-size:6.4px;color:#4f5f86">Baseball</div>
<div class="t" style="left:420px;top:232px;font-size:6px;color:#1d2c50;font-weight:bold">6</div>
<div class="a" style="left:454.5px;top:222.4px;width:51.0px;height:18.2px;background:#fff;border:0.5px solid #eceef5;border-radius:1px"></div>
<svg class="a" style="left:458.5px;top:225.2px" width="12.8" height="12.8" viewBox="0 0 12 12"><path d="M2.4 2.6 H9.6 Q11.4 2.6 11.6 6 L11.8 10.4 H9.4 L8.4 7.8 H3.6 L2.6 10.4 H0.2 L0.4 6 Q0.6 2.6 2.4 2.6Z" fill="#b9c2dc"/><rect x="2.2" y="4.2" width="2" height="2" fill="#a58fc4"/><rect x="8" y="4.2" width="1.6" height="1.6" fill="#d8a0b0"/></svg>
<div class="t" id="f4" style="left:474.5px;top:224.2px;font-size:6.4px;color:#4f5f86">E-Sports</div>
<div class="t" style="left:474.5px;top:232px;font-size:6px;color:#1d2c50;font-weight:bold">4</div>
<div class="a" style="left:510.5px;top:222.4px;width:53.0px;height:18.2px;background:#fff;border:0.5px solid #eceef5;border-radius:1px"></div>
<svg class="a" style="left:514.5px;top:225.2px" width="12.8" height="12.8" viewBox="0 0 12 12"><circle cx="6" cy="6" r="5.6" fill="#b9c4de"/><path d="M0.5 7 Q4 5 7 7.4 Q8 9.6 6.6 11.6 Q2 11.6 0.5 7Z" fill="#e63b34"/><path d="M6 0.4 Q9.6 1 10.8 4 Q8 4.6 6.4 3 Z" fill="#e63b34"/><path d="M4.2 2 Q7 5 11.4 5.2" stroke="#fff" stroke-width="0.7" fill="none"/></svg>
<div class="t" id="f5" style="left:530.5px;top:224.2px;font-size:6.4px;color:#4f5f86">Röplabda</div>
<div class="t" style="left:530.5px;top:232px;font-size:6px;color:#1d2c50;font-weight:bold">5</div>
<div class="a" style="left:568.8px;top:222.4px;width:60.200000000000045px;height:18.2px;background:#fff;border:0.5px solid #eceef5;border-radius:1px"></div>
<svg class="a" style="left:572.8px;top:225.2px" width="12.8" height="12.8" viewBox="0 0 12 12"><circle cx="7.4" cy="4.8" r="4.5" fill="#aebbdb"/><path d="M3.8 7 L5.2 8.4 L1.8 11.6 L0.4 10.2 Z" fill="#e63b34"/><circle cx="1.8" cy="7.4" r="1.3" fill="#e63b34"/></svg>
<div class="t" id="f6" style="left:588.8px;top:224.2px;font-size:6.4px;color:#4f5f86">Asztalitenisz</div>
<div class="t" style="left:588.8px;top:232px;font-size:6px;color:#1d2c50;font-weight:bold">16</div>
<div class="a" style="left:634.5px;top:222.4px;width:43.5px;height:18.2px;background:#fff;border:0.5px solid #eceef5;border-radius:1px"></div>
<svg class="a" style="left:638.5px;top:225.2px" width="12.8" height="12.8" viewBox="0 0 12 12"><path d="M9.6 0.6 L11.4 2.4 L4.4 9.4 L2.6 7.6 Z" fill="#aebbdb"/><path d="M3 8.2 L3.8 9 L1 11.6 L0.4 11 Z" fill="#8ea0cc"/><circle cx="2.6" cy="2.6" r="1.8" fill="#e63b34"/></svg>
<div class="t" id="f7" style="left:654.5px;top:224.2px;font-size:6.4px;color:#4f5f86">Krikett</div>
<div class="t" style="left:654.5px;top:232px;font-size:6px;color:#1d2c50;font-weight:bold">3</div>
<div class="a" style="left:683px;top:222.4px;width:54px;height:18.2px;background:#fff;border:0.5px solid #eceef5;border-radius:1px"></div>
<svg class="a" style="left:687px;top:225.2px" width="12.8" height="12.8" viewBox="0 0 12 12"><circle cx="5" cy="1.8" r="1.3" fill="#9fb0d6"/><path d="M4.6 3.4 L6.4 3.6 L9 2.6 M5.4 3.6 L5 7 L3 11.4 M5 7 L7 11.4 M4.6 4 L2.6 6.6" stroke="#9fb0d6" stroke-width="1.1" fill="none" stroke-linecap="round"/><circle cx="10" cy="2.6" r="1.1" fill="#e63b34"/></svg>
<div class="t" id="f8" style="left:703px;top:224.2px;font-size:6.4px;color:#4f5f86">Kézilabda</div>
<div class="t" style="left:703px;top:232px;font-size:6px;color:#1d2c50;font-weight:bold">1</div>
<div class="a" style="left:743px;top:222.4px;width:70.60000000000002px;height:18.2px;background:#fff;border:0.5px solid #eceef5;border-radius:1px"></div>
<svg class="a" style="left:747px;top:225.2px" width="12.8" height="12.8" viewBox="0 0 12 12"><path d="M6.6 2.6 L11.6 11 H1.6 Z" fill="none" stroke="#aebbdb" stroke-width="0.9"/><path d="M4.4 7 H9 M3.4 9 H10.2" stroke="#aebbdb" stroke-width="0.8"/><path d="M7.6 0.4 L8.6 0.9 L1.4 11.4 L0.4 10.9 Z" fill="#e63b34"/></svg>
<div class="t" id="f9" style="left:763px;top:224.2px;font-size:6.4px;color:#4f5f86">Snooker és pool</div>
<div class="t" style="left:763px;top:232px;font-size:6px;color:#1d2c50;font-weight:bold">7</div>
<div class="a" style="left:216.4px;top:248px;width:12.8px;height:14.2px;background:#fff;border:0.5px solid #e8ebf3"></div>
<svg class="a" style="left:220.4px;top:252.4px" width="5" height="5" viewBox="0 0 10 10"><path d="M5 0.5 L6.4 3.6 L9.8 4 L7.2 6.2 L8 9.6 L5 7.8 L2 9.6 L2.8 6.2 L0.2 4 L3.6 3.6 Z" fill="#9fd4ec"/></svg>
<div class="a" style="left:232px;top:248px;width:42.6px;height:14.2px;background:#1aa5de"></div><div class="t" id="baj" style="left:238.8px;top:251.8px;font-size:6.4px;letter-spacing:0.3px;color:#d8f0fb">Bajnokság</div>
<div class="a" style="left:274.6px;top:248px;width:19.6px;height:14.2px;background:#fff;border:0.5px solid #e8ebf3"></div><div class="t" style="left:278.6px;top:252px;font-size:6px;color:#7a88a8">Idő</div>
<div class="a" style="left:705.6px;top:247.6px;width:68.2px;height:14.6px;background:#eef0f8;border-radius:1px"></div><div class="t" id="mf" style="left:712.5px;top:251.6px;font-size:6.6px;color:#6b7ba3">Minden funkció</div>
<svg class="a" style="left:761.4px;top:253.4px" width="6" height="4" viewBox="0 0 6 4"><path d="M0.8 0.6 L3 2.8 L5.2 0.6" stroke="#8695b8" stroke-width="0.7" fill="none"/></svg>
<div class="a" style="left:778.2px;top:247.6px;width:69.8px;height:14.6px;background:#eef0f8;border-radius:1px"></div><div class="t" id="ae" style="left:785.5px;top:251.6px;font-size:6.6px;color:#6b7ba3">Alapértelmezett</div>
<svg class="a" style="left:836px;top:253.4px" width="6" height="4" viewBox="0 0 6 4"><path d="M0.8 0.6 L3 2.8 L5.2 0.6" stroke="#8695b8" stroke-width="0.7" fill="none"/></svg>
<div class="lh" style="top:266px"><span id="lh0">AFC Champions League Elite(1)</span></div>
<div class="mr" style="top:285px"></div>
<div class="a" style="left:255px;top:286.5px;width:0.6px;height:39px;background:#e6e9f2"></div>
<div class="a" style="left:512.4px;top:286.5px;width:0.6px;height:39px;background:#e9ecf4"></div>
<svg class="a" style="left:231.4px;top:291.2px" width="9.6" height="9.6" viewBox="0 0 12 12"><path d="M6.8 1 A5 5 0 0 1 6.8 11" fill="none" stroke="#cfd5ea" stroke-width="1.6"/><ellipse cx="4.2" cy="3.9" rx="2.9" ry="2.7" fill="#de3b3e"/><ellipse cx="4.2" cy="8.3" rx="2.9" ry="2.7" fill="#d9363a"/></svg>
<div class="t" style="left:215px;width:40px;text-align:center;top:304.4px;font-size:6.3px;color:#7d8aa8">Félidő</div>
<div class="t" id="m0a" style="left:266px;top:290.4px;font-size:7.56px;color:#3a4a70">Central Coast Mariners</div>
<div class="t" id="m0b" style="left:266px;top:301.8px;font-size:7.56px;color:#3a4a70">Buriram United</div>
<div class="a" style="left:266.2px;top:313.8px;width:6.8px;height:6.8px;background:#2b3d68;border-radius:0.6px"></div><div class="a" style="left:267.4px;top:315.0px;width:4.4px;height:4.4px;border:0.7px solid #e8ecf6;border-radius:50%"></div><div class="a" style="left:269.2px;top:314.40000000000003px;width:0.8px;height:5.6px;background:#e8ecf6"></div><div class="a" style="left:266.8px;top:316.8px;width:5.6px;height:0.8px;background:#e8ecf6"></div>
<div class="a" style="left:274.59999999999997px;top:313.8px;width:6.8px;height:6.8px;background:#2b3d68;border-radius:0.6px"></div><div class="a" style="left:275.99999999999994px;top:317.0px;width:4px;height:2.4px;background:#e8ecf6"></div><div class="a" style="left:276.99999999999994px;top:315.0px;width:2px;height:2px;border-radius:50%;background:#e8ecf6"></div>
<div class="t" style="left:499px;top:290.4px;font-size:7.6px;color:#e8413a;font-weight:bold;width:6px;text-align:center">0</div>
<div class="t" style="left:499px;top:302.6px;font-size:7.6px;color:#e8413a;font-weight:bold;width:6px;text-align:center">1</div>
<div class="a" style="left:521px;top:288.2px;width:11.4px;height:10.8px;background:#17305e"></div>
<div class="a" style="left:807.6px;top:288.2px;width:11.4px;height:10.8px;background:#17305e"></div>
<svg class="a" style="left:525.4px;top:292px" width="3" height="4" viewBox="0 0 3 4"><path d="M2.2 0.5 L0.8 2 L2.2 3.5" stroke="#8ea2cf" stroke-width="0.6" fill="none"/></svg>
<svg class="a" style="left:811.8px;top:292px" width="3" height="4" viewBox="0 0 3 4"><path d="M0.8 0.5 L2.2 2 L0.8 3.5" stroke="#8ea2cf" stroke-width="0.6" fill="none"/></svg>
<div class="a" style="left:535px;top:288.2px;width:270px;height:10.8px;background:#17305e"></div>
<div class="t" style="left:535px;width:270px;text-align:center;top:290.6px;font-size:6.15px;color:#fff">Élő fogadás 1X2</div>
<div class="a" style="left:521px;top:302.4px;width:97.0px;height:20.4px;background:#fff;border:0.6px solid #d3ebf5"></div>
<div class="t" style="left:521px;width:97.0px;text-align:center;top:305.4px;font-size:6.5px;color:#56648a">Central Coast Mariners</div>
<div class="t" style="left:521px;width:97.0px;text-align:center;top:313.8px;font-size:6.3px;color:#56648a">8.80</div>
<div class="a" style="left:621px;top:302.4px;width:96.6px;height:20.4px;background:#fff;border:0.6px solid #d3ebf5"></div>
<div class="t" style="left:621px;width:96.6px;text-align:center;top:305.4px;font-size:6.5px;color:#56648a">Draw</div>
<div class="t" style="left:621px;width:96.6px;text-align:center;top:313.8px;font-size:6.3px;color:#56648a">6.10</div>
<div class="a" style="left:720.6px;top:302.4px;width:97.8px;height:20.4px;background:#fff;border:0.6px solid #d3ebf5"></div>
<div class="t" style="left:720.6px;width:97.8px;text-align:center;top:305.4px;font-size:6.5px;color:#56648a">Buriram United</div>
<div class="t" style="left:720.6px;width:97.8px;text-align:center;top:313.8px;font-size:6.3px;color:#56648a">1.41</div>
<div class="t" style="left:824px;width:20px;text-align:center;top:302.9px;font-size:6px;color:#7d8db3">+65</div>
<div class="lh" style="top:329px"><span id="lh1">India - Delhi Premier League(1)</span></div>
<div class="mr" style="top:348px"></div>
<div class="a" style="left:255px;top:349.5px;width:0.6px;height:39px;background:#e6e9f2"></div>
<div class="a" style="left:512.4px;top:349.5px;width:0.6px;height:39px;background:#e9ecf4"></div>
<svg class="a" style="left:231.4px;top:354.2px" width="9.6" height="9.6" viewBox="0 0 12 12"><path d="M6.8 1 A5 5 0 0 1 6.8 11" fill="none" stroke="#cfd5ea" stroke-width="1.6"/><ellipse cx="4.2" cy="3.9" rx="2.9" ry="2.7" fill="#de3b3e"/><ellipse cx="4.2" cy="8.3" rx="2.9" ry="2.7" fill="#d9363a"/></svg>
<div class="t" style="left:215px;width:40px;text-align:center;top:366.8px;font-size:6.2px;color:#7d8aa8">2. félidő</div>
<div class="t" style="left:215px;width:40px;text-align:center;top:374.4px;font-size:6.2px;color:#7d8aa8">70:26</div>
<div class="t" id="m1a" style="left:266px;top:353.4px;font-size:7.56px;color:#3a4a70">Vatika FC</div>
<div class="t" id="m1b" style="left:266px;top:364.8px;font-size:7.56px;color:#3a4a70">Delhi FC XI</div>
<div class="a" style="left:266.2px;top:376.8px;width:6.8px;height:6.8px;background:#2b3d68;border-radius:0.6px"></div><div class="a" style="left:267.4px;top:378.0px;width:4.4px;height:4.4px;border:0.7px solid #e8ecf6;border-radius:50%"></div><div class="a" style="left:269.2px;top:377.40000000000003px;width:0.8px;height:5.6px;background:#e8ecf6"></div><div class="a" style="left:266.8px;top:379.8px;width:5.6px;height:0.8px;background:#e8ecf6"></div>
<div class="t" style="left:499px;top:353.4px;font-size:7.6px;color:#e8413a;font-weight:bold;width:6px;text-align:center">0</div>
<div class="t" style="left:499px;top:365.6px;font-size:7.6px;color:#e8413a;font-weight:bold;width:6px;text-align:center">1</div>
<div class="a" style="left:521px;top:351.2px;width:11.4px;height:10.8px;background:#b9bfcf"></div>
<div class="a" style="left:807.6px;top:351.2px;width:11.4px;height:10.8px;background:#b9bfcf"></div>
<svg class="a" style="left:525.4px;top:355px" width="3" height="4" viewBox="0 0 3 4"><path d="M2.2 0.5 L0.8 2 L2.2 3.5" stroke="#8ea2cf" stroke-width="0.6" fill="none"/></svg>
<svg class="a" style="left:811.8px;top:355px" width="3" height="4" viewBox="0 0 3 4"><path d="M0.8 0.5 L2.2 2 L0.8 3.5" stroke="#8ea2cf" stroke-width="0.6" fill="none"/></svg>
<div class="a" style="left:535px;top:351.2px;width:270px;height:10.8px;background:#17305e"></div>
<div class="t" style="left:535px;width:270px;text-align:center;top:353.6px;font-size:6.15px;color:#fff">Élő fogadás 1X2</div>
<div class="a" style="left:521px;top:365.4px;width:97.0px;height:20.4px;background:#fbfcfe;border:0.6px solid #e4edf4"></div>
<div class="a" style="left:621px;top:365.4px;width:96.6px;height:20.4px;background:#fbfcfe;border:0.6px solid #e4edf4"></div>
<div class="a" style="left:720.6px;top:365.4px;width:97.8px;height:20.4px;background:#fbfcfe;border:0.6px solid #e4edf4"></div>
<div class="t" style="left:824px;width:20px;text-align:center;top:365.9px;font-size:6px;color:#7d8db3">+3</div>
<div class="lh" style="top:392px"><span id="lh2">India - Sikkim S League(1)</span></div>
<div class="mr" style="top:411px"></div>
<div class="a" style="left:255px;top:412.5px;width:0.6px;height:39px;background:#e6e9f2"></div>
<div class="a" style="left:512.4px;top:412.5px;width:0.6px;height:39px;background:#e9ecf4"></div>
<svg class="a" style="left:231.4px;top:417.2px" width="9.6" height="9.6" viewBox="0 0 12 12"><path d="M6.8 1 A5 5 0 0 1 6.8 11" fill="none" stroke="#cfd5ea" stroke-width="1.6"/><ellipse cx="4.2" cy="3.9" rx="2.9" ry="2.7" fill="#de3b3e"/><ellipse cx="4.2" cy="8.3" rx="2.9" ry="2.7" fill="#d9363a"/></svg>
<div class="t" style="left:215px;width:40px;text-align:center;top:429.8px;font-size:6.2px;color:#7d8aa8">1. félidő</div>
<div class="t" style="left:215px;width:40px;text-align:center;top:437.4px;font-size:6.2px;color:#7d8aa8">20:52</div>
<div class="t" id="m2a" style="left:266px;top:416.4px;font-size:7.56px;color:#3a4a70">Howlers Sporting</div>
<div class="t" id="m2b" style="left:266px;top:427.8px;font-size:7.56px;color:#3a4a70">Sikkim Aakraman FC</div>
<div class="a" style="left:266.2px;top:439.8px;width:6.8px;height:6.8px;background:#2b3d68;border-radius:0.6px"></div><div class="a" style="left:267.4px;top:441.0px;width:4.4px;height:4.4px;border:0.7px solid #e8ecf6;border-radius:50%"></div><div class="a" style="left:269.2px;top:440.40000000000003px;width:0.8px;height:5.6px;background:#e8ecf6"></div><div class="a" style="left:266.8px;top:442.8px;width:5.6px;height:0.8px;background:#e8ecf6"></div>
<div class="t" style="left:499px;top:416.4px;font-size:7.6px;color:#e8413a;font-weight:bold;width:6px;text-align:center">0</div>
<div class="t" style="left:499px;top:428.6px;font-size:7.6px;color:#e8413a;font-weight:bold;width:6px;text-align:center">0</div>
<div class="a" style="left:521px;top:414.2px;width:11.4px;height:10.8px;background:#17305e"></div>
<div class="a" style="left:807.6px;top:414.2px;width:11.4px;height:10.8px;background:#17305e"></div>
<svg class="a" style="left:525.4px;top:418px" width="3" height="4" viewBox="0 0 3 4"><path d="M2.2 0.5 L0.8 2 L2.2 3.5" stroke="#8ea2cf" stroke-width="0.6" fill="none"/></svg>
<svg class="a" style="left:811.8px;top:418px" width="3" height="4" viewBox="0 0 3 4"><path d="M0.8 0.5 L2.2 2 L0.8 3.5" stroke="#8ea2cf" stroke-width="0.6" fill="none"/></svg>
<div class="a" style="left:535px;top:414.2px;width:270px;height:10.8px;background:#17305e"></div>
<div class="t" style="left:535px;width:270px;text-align:center;top:416.6px;font-size:6.15px;color:#fff">Élő fogadás 1X2</div>
<div class="a" style="left:521px;top:428.4px;width:97.0px;height:20.4px;background:#fbfcfe;border:0.6px solid #e4edf4"></div>
<div class="a" style="left:621px;top:428.4px;width:96.6px;height:20.4px;background:#fbfcfe;border:0.6px solid #e4edf4"></div>
<div class="a" style="left:720.6px;top:428.4px;width:97.8px;height:20.4px;background:#fbfcfe;border:0.6px solid #e4edf4"></div>
<div class="t" style="left:824px;width:20px;text-align:center;top:428.9px;font-size:6px;color:#7d8db3">+56</div>
<div class="lh" style="top:455px"><span id="lh3">Vietnam - Championship U19 Women(1)</span></div>
<div class="a" style="left:215px;top:474px;width:633px;height:8px;background:#f4f5fa"></div><!--/P4-->
<!--P5--><div class="a" style="left:854px;top:107px;width:170px;height:41.2px;background:#12264b"></div>
<div class="a" style="left:857.4px;top:87px;width:18.8px;height:13.2px;background:#fff;border-radius:0.6px"></div>
<svg class="a" style="left:863.4px;top:90px" width="7" height="8" viewBox="0 0 7 8"><rect x="0.5" y="0.5" width="6" height="7" fill="none" stroke="#8c98b4" stroke-width="0.6"/><path d="M0.5 2.4 H6.5 M2.6 2.4 V7.5 M2.6 4.2 H6.5 M2.6 5.8 H6.5" stroke="#8c98b4" stroke-width="0.5"/></svg>
<div class="a" style="left:878.8px;top:87px;width:142.6px;height:13.2px;background:#dff2fb;border-radius:0.6px"></div>
<svg class="a" style="left:941.4px;top:89.4px" width="9" height="9" viewBox="0 0 9 9"><circle cx="4.5" cy="3" r="2.1" fill="none" stroke="#3b4a6b" stroke-width="0.6"/><path d="M0.9 8.6 Q1.2 5.2 4.5 5.2 Q7.8 5.2 8.1 8.6" fill="none" stroke="#3b4a6b" stroke-width="0.6"/><path d="M4.5 5.6 V8.4" stroke="#3b4a6b" stroke-width="0.5"/></svg>
<div class="t" style="left:952.8px;top:90.4px;font-size:6.4px;color:#3b4a6b">Te</div>
<svg class="a" style="left:861px;top:112px" width="32" height="32" viewBox="0 0 32 32"><circle cx="16" cy="16" r="15.4" fill="none" stroke="#dfe6f5" stroke-width="0.7"/><circle cx="16" cy="12.4" r="4.2" fill="none" stroke="#fff" stroke-width="1.2"/><path d="M8.8 23.4 Q9.2 17.2 16 17.2 Q22.8 17.2 23.2 23.4" fill="none" stroke="#fff" stroke-width="1.2" stroke-linecap="round"/><path d="M16 18 V22.6" stroke="#fff" stroke-width="1"/></svg>
<div class="t w" id="prl" style="left:896px;top:121.6px;font-size:6.9px;-webkit-text-stroke:0.15px #fff">Please register / login.</div>
<svg class="a" style="left:874px;top:161px" width="28" height="28" viewBox="0 0 28 28"><circle cx="14" cy="14" r="13" fill="none" stroke="#d3dcf0" stroke-width="0.8"/></svg>
<svg class="a" style="left:925.7px;top:161px" width="28" height="28" viewBox="0 0 28 28"><circle cx="14" cy="14" r="13" fill="none" stroke="#d3dcf0" stroke-width="0.8"/></svg>
<svg class="a" style="left:977px;top:161px" width="28" height="28" viewBox="0 0 28 28"><circle cx="14" cy="14" r="13" fill="none" stroke="#d3dcf0" stroke-width="0.8"/></svg>
<svg class="a" style="left:882px;top:169px" width="12" height="12" viewBox="0 0 12 12"><path d="M1 6.4 L6.6 2 L9.4 6.8 L3.2 9.6 Z" fill="#2a93dc" fill-opacity="0.35" stroke="#2a93dc" stroke-width="1.2" stroke-linejoin="round"/><path d="M3 9.4 L4.2 11.4 L5.8 10.6 L5 8.8" fill="none" stroke="#2a93dc" stroke-width="0.9"/><path d="M9.6 2.2 L10.6 1 M10.4 4.4 L11.6 4 M8 1.4 L8.2 0.4" stroke="#2a93dc" stroke-width="0.7"/></svg>
<svg class="a" style="left:934px;top:168.6px" width="12" height="13" viewBox="0 0 12 13"><path d="M2.6 1 H9.6 V9.6 Q9.6 11.8 7.6 11.8 H2.2 Q0.8 11.6 0.8 10 H6.4 M2.6 1 Q1 1 1 2.6 H2.8 M2.8 1.4 V9.8" fill="none" stroke="#2a93dc" stroke-width="0.9"/><rect x="4.6" y="3.8" width="3.2" height="3.4" fill="none" stroke="#2a93dc" stroke-width="0.7"/></svg>
<div class="t" style="left:984.8px;top:171px;font-size:7.8px;font-weight:bold;color:#2a93dc;letter-spacing:0.2px">2:1</div>
<div class="t w" id="r1" style="left:866px;width:44px;text-align:center;top:193px;font-size:5.8px;font-weight:bold">Hirdetések</div>
<div class="t w" id="r2" style="left:917.7px;width:44px;text-align:center;top:193px;font-size:5.8px;font-weight:bold">Fogadási</div>
<div class="t w" id="r3" style="left:917.7px;width:44px;text-align:center;top:200.4px;font-size:5.8px;font-weight:bold">szabályok</div>
<div class="t w" id="r4" style="left:969px;width:44px;text-align:center;top:193px;font-size:5.8px;font-weight:bold">Eredmények</div><!--/P5-->
<!--MAIN-->
<div class="a" id="bot"></div><div class="a" style="left:0;top:477.5px;width:41px;height:19.5px;background:#121c3f"></div>
<div class="a" style="left:6px;top:481px;width:9px;height:9.5px;background:#fff;overflow:hidden;border-radius:0.5px"><div style="height:3.2px;background:#d8443f"></div><div style="height:3.1px;background:#f2f2f2"></div><div style="height:3.2px;background:#4a8a5c"></div></div>
<svg class="a" style="left:25.5px;top:481.5px" width="9" height="9" viewBox="0 0 9 9"><circle cx="4.5" cy="4.5" r="4.2" fill="#f2f4f8"/><text x="4.5" y="6.6" font-size="5.5" font-weight="bold" text-anchor="middle" fill="#121c3f" font-family="Liberation Sans">?</text></svg>
</body></html>
